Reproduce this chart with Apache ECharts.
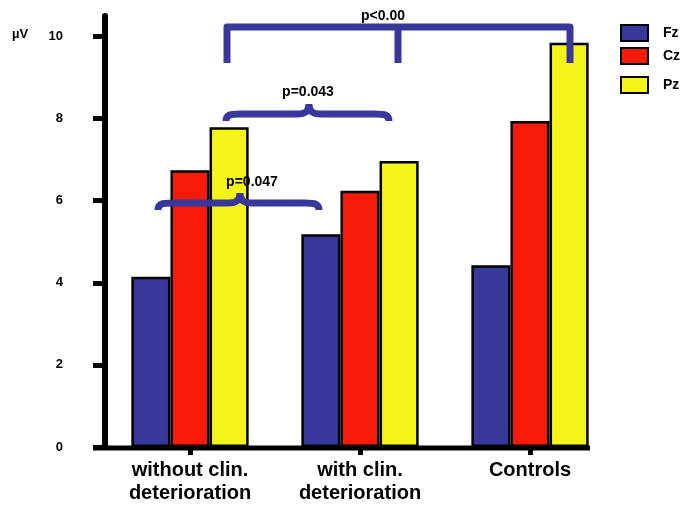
<!DOCTYPE html>
<html>
<head>
<meta charset="utf-8">
<script src="https://cdn.jsdelivr.net/npm/echarts@6/dist/echarts.min.js"></script>
<style>html,body{margin:0;padding:0;background:#fff;}#c{width:681px;height:505px;}</style>
</head>
<body>
<div id="c"></div>
<script>
const categories = ['without clin.\ndeterioration', 'with clin.\ndeterioration', 'Controls'];
const seriesNames = ['Fz', 'Cz', 'Pz'];
const fzValues = [4.15, 5.18, 4.43];
const czValues = [6.74, 6.24, 7.94];
const pzValues = [7.79, 6.97, 9.85];
const yTicks = [0, 2, 4, 6, 8, 10];
const pLabels = ['p<0.00', 'p=0.043', 'p=0.047'];

const colors = ['#37389a', '#f61a08', '#f4f41a'];
const bracketColor = '#37389a';
const font = '"Liberation Sans", Arial, sans-serif';

echarts.graphic.registerShape('brace', echarts.graphic.extendShape({
  shape: { x0: 0, x1: 0, y: 0, xc: 0, drop: 7, rise: 10 },
  buildPath: function (ctx, s) {
    const x0 = s.x0, x1 = s.x1, y = s.y, xc = s.xc, d = s.drop, r = s.rise;
    ctx.moveTo(x0, y + d);
    ctx.bezierCurveTo(x0, y + 1, x0 + 4, y, x0 + 14, y);
    ctx.lineTo(xc - 12, y);
    ctx.bezierCurveTo(xc - 4, y, xc, y - 2, xc, y - r);
    ctx.bezierCurveTo(xc, y - 2, xc + 4, y, xc + 12, y);
    ctx.lineTo(x1 - 14, y);
    ctx.bezierCurveTo(x1 - 4, y, x1, y + 1, x1, y + d);
  }
}));

const chart = echarts.init(document.getElementById('c'));

function legendFor(i, top) {
  return {
    show: true, orient: 'vertical', left: 620, top: top, padding: 0,
    data: [seriesNames[i]], itemWidth: 27, itemHeight: 16, icon: 'rect',
    itemStyle: { borderColor: '#000', borderWidth: 2 },
    textStyle: { fontFamily: font, fontWeight: 'bold', fontSize: 14, color: '#000', padding: [0, 0, 0, 10] },
    selectedMode: false
  };
}

const barStyle = (c) => ({ color: c, borderColor: '#000', borderWidth: 2.5 });

const option = {
  animation: false,
  backgroundColor: '#fff',
  grid: { left: 105, right: 66, top: 16, bottom: 57, containLabel: false },
  legend: [legendFor(0, 24), legendFor(1, 47), legendFor(2, 76)],
  xAxis: {
    type: 'category', data: categories,
    axisLine: { show: false },
    axisTick: { show: true, alignWithLabel: true, length: 8, lineStyle: { color: '#000', width: 5 } },
    axisLabel: { fontFamily: font, fontWeight: 'bold', fontSize: 20, color: '#000', margin: 12, lineHeight: 23 },
    splitLine: { show: false }
  },
  yAxis: {
    type: 'value', min: 0, max: 10.5, interval: 2,
    axisLine: { show: true, lineStyle: { color: '#000', width: 6 } },
    axisTick: { show: true, length: 12, customValues: yTicks, lineStyle: { color: '#000', width: 5 } },
    axisLabel: { customValues: yTicks, fontFamily: font, fontWeight: 'bold', fontSize: 13, color: '#000', margin: 42 },
    splitLine: { show: false }
  },
  series: [
    { name: seriesNames[0], type: 'bar', data: fzValues, barGap: '0%', barCategoryGap: '31%', itemStyle: barStyle(colors[0]) },
    { name: seriesNames[1], type: 'bar', data: czValues, barGap: '0%', barCategoryGap: '31%', itemStyle: barStyle(colors[1]) },
    { name: seriesNames[2], type: 'bar', data: pzValues, barGap: '0%', barCategoryGap: '31%', itemStyle: barStyle(colors[2]) }
  ],
  graphic: [
    { type: 'line', z: 100, shape: { x1: 93, y1: 448, x2: 590, y2: 448 }, style: { stroke: '#000', lineWidth: 5 } },
    { type: 'text', z: 100, x: 12, y: 34, style: { text: 'µV', font: 'bold 13px ' + font, fill: '#000', verticalAlign: 'middle' } },
    { type: 'text', z: 100, x: 383, y: 16, style: { text: pLabels[0], font: 'bold 14px ' + font, fill: '#000', align: 'center', verticalAlign: 'middle' } },
    { type: 'polyline', z: 101, shape: { points: [[227, 63], [227, 27], [570, 27], [570, 63]] }, style: { stroke: bracketColor, lineWidth: 7, fill: null, lineJoin: 'round' } },
    { type: 'line', z: 101, shape: { x1: 398, y1: 27, x2: 398, y2: 63 }, style: { stroke: bracketColor, lineWidth: 7 } },
    { type: 'text', z: 100, x: 308, y: 92, style: { text: pLabels[1], font: 'bold 14px ' + font, fill: '#000', align: 'center', verticalAlign: 'middle' } },
    { type: 'brace', z: 101, shape: { x0: 226, x1: 389, y: 114, xc: 309, drop: 7, rise: 10 }, style: { stroke: bracketColor, lineWidth: 7, fill: null } },
    { type: 'text', z: 100, x: 252, y: 182, style: { text: pLabels[2], font: 'bold 14px ' + font, fill: '#000', align: 'center', verticalAlign: 'middle' } },
    { type: 'brace', z: 101, shape: { x0: 158, x1: 319, y: 203, xc: 240, drop: 7, rise: 10 }, style: { stroke: bracketColor, lineWidth: 7, fill: null } }
  ]
};
chart.setOption(option);
</script>
</body>
</html>
